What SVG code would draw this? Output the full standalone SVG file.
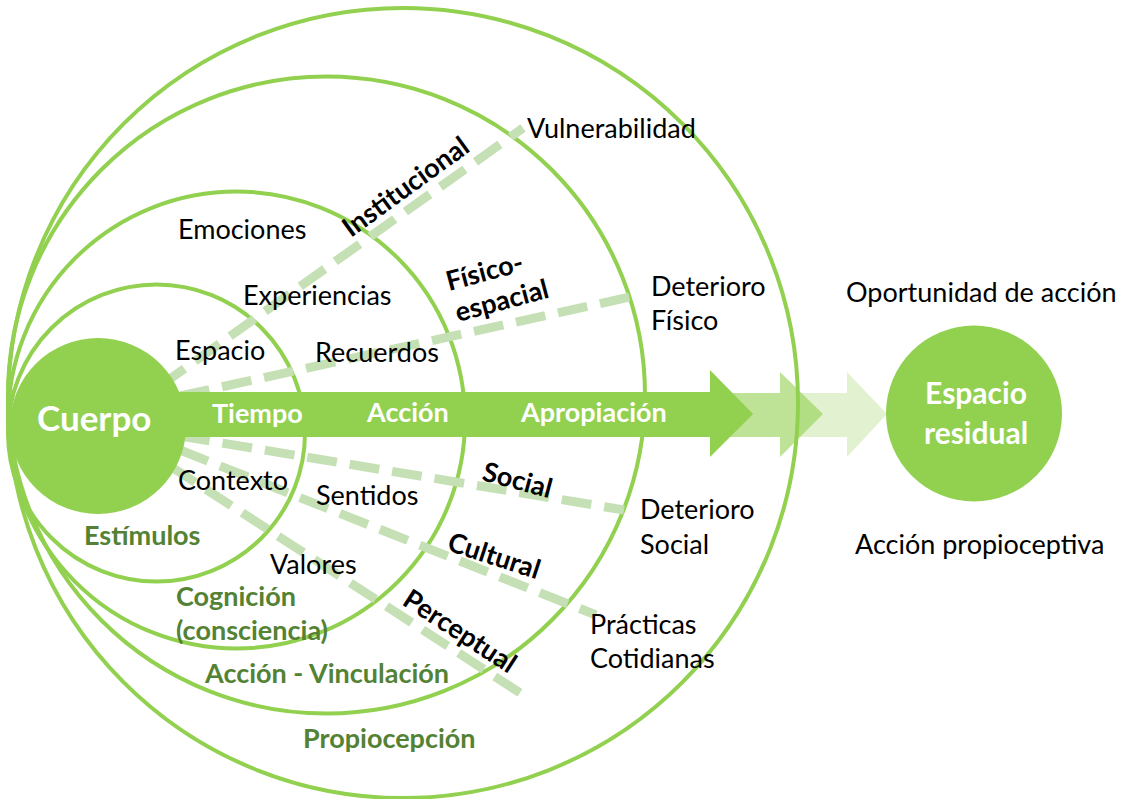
<svg xmlns="http://www.w3.org/2000/svg" width="1122" height="799" viewBox="0 0 1122 799">
<style>
.ring{fill:none;stroke:#92D050;stroke-width:4}
.dash{fill:none;stroke:#C5E0B4;stroke-width:9;stroke-dasharray:30 13}
.t{font-family:Lato,"Open Sans","Liberation Sans",sans-serif;font-size:27px;fill:#000}
.g{font-weight:bold;fill:#548235}
.w{font-weight:bold;fill:#fff}
.k{font-weight:bold;fill:#000}
.big{font-size:35px}
.mid{font-size:30px}
.fill{fill:#92D050}
</style>
<rect width="1122" height="799" fill="#fff"/>
<g id="ring-propiocepcion"><circle class="ring" cx="403" cy="403" r="395"/></g>
<g id="ring-accion-vinculacion"><circle class="ring" cx="326.5" cy="395" r="318.5"/></g>
<g id="ring-cognicion"><circle class="ring" cx="236.5" cy="420" r="228.5"/></g>
<g id="ring-estimulos"><circle class="ring" cx="156.5" cy="433" r="148.5"/></g>
<g id="connectors">
<line class="dash" x1="160" y1="386" x2="523" y2="128"/>
<line class="dash" x1="180" y1="396" x2="630" y2="297"/>
<line class="dash" x1="180" y1="436" x2="624" y2="510"/>
<line class="dash" x1="180" y1="450" x2="596" y2="615"/>
<line class="dash" x1="170" y1="466" x2="528" y2="698"/>
<polygon fill="#92D050" fill-opacity="0.27" points="798,393 847,393 847,372 887,414 847,457 847,437 798,437"/>
<polygon fill="#92D050" fill-opacity="0.6" points="725,393 780,393 780,372 823,414 780,457 780,437 725,437"/>
<polygon fill="#92D050" points="150,392 710,392 710,370 753,414 710,457 710,437 150,437"/>
</g>
<g id="cuerpo"><circle class="fill" cx="98" cy="426" r="88"/><text class="t w big" x="37" y="431">Cuerpo</text></g>
<g id="espacio-residual"><circle class="fill" cx="974" cy="413.5" r="88"/>
<text class="t w mid" x="976" y="404" text-anchor="middle">Espacio</text>
<text class="t w mid" x="976" y="444" text-anchor="middle">residual</text></g>
<g id="arrow-labels">
<text class="t w" x="212" y="423">Tiempo</text>
<text class="t w" x="367" y="422">Acción</text>
<text class="t w" x="521" y="422">Apropiación</text>
</g>
<g id="inner-labels">
<text class="t" x="178" y="239">Emociones</text>
<text class="t" x="243" y="305">Experiencias</text>
<text class="t" x="175" y="360">Espacio</text>
<text class="t" x="315" y="362">Recuerdos</text>
<text class="t" x="178" y="490">Contexto</text>
<text class="t" x="316" y="505">Sentidos</text>
<text class="t" x="270" y="574">Valores</text>
</g>
<g id="ring-labels">
<text class="t g" x="84" y="545">Estímulos</text>
<text class="t g" x="176" y="606">Cognición</text>
<text class="t g" x="176" y="640">(consciencia)</text>
<text class="t g" x="205" y="683">Acción - Vinculación</text>
<text class="t g" x="303" y="748">Propiocepción</text>
</g>
<g id="line-labels">
<text class="t k" transform="translate(351,238) rotate(-36)">Institucional</text>
<text class="t k" transform="translate(449,291) rotate(-15)">Físico-</text>
<text class="t k" transform="translate(458,322) rotate(-15)">espacial</text>
<text class="t k" transform="translate(481,480) rotate(15)">Social</text>
<text class="t k" transform="translate(446,550) rotate(18)">Cultural</text>
<text class="t k" transform="translate(401,604) rotate(33)">Perceptual</text>
</g>
<g id="outcome-labels">
<text class="t" x="527" y="138">Vulnerabilidad</text>
<text class="t" x="651" y="296">Deterioro</text>
<text class="t" x="651" y="330">Físico</text>
<text class="t" x="640" y="519">Deterioro</text>
<text class="t" x="640" y="554">Social</text>
<text class="t" x="590" y="634">Prácticas</text>
<text class="t" x="590" y="668">Cotidianas</text>
<text class="t" x="846" y="302">Oportunidad de acción</text>
<text class="t" x="855" y="554">Acción propioceptiva</text>
</g>
</svg>
